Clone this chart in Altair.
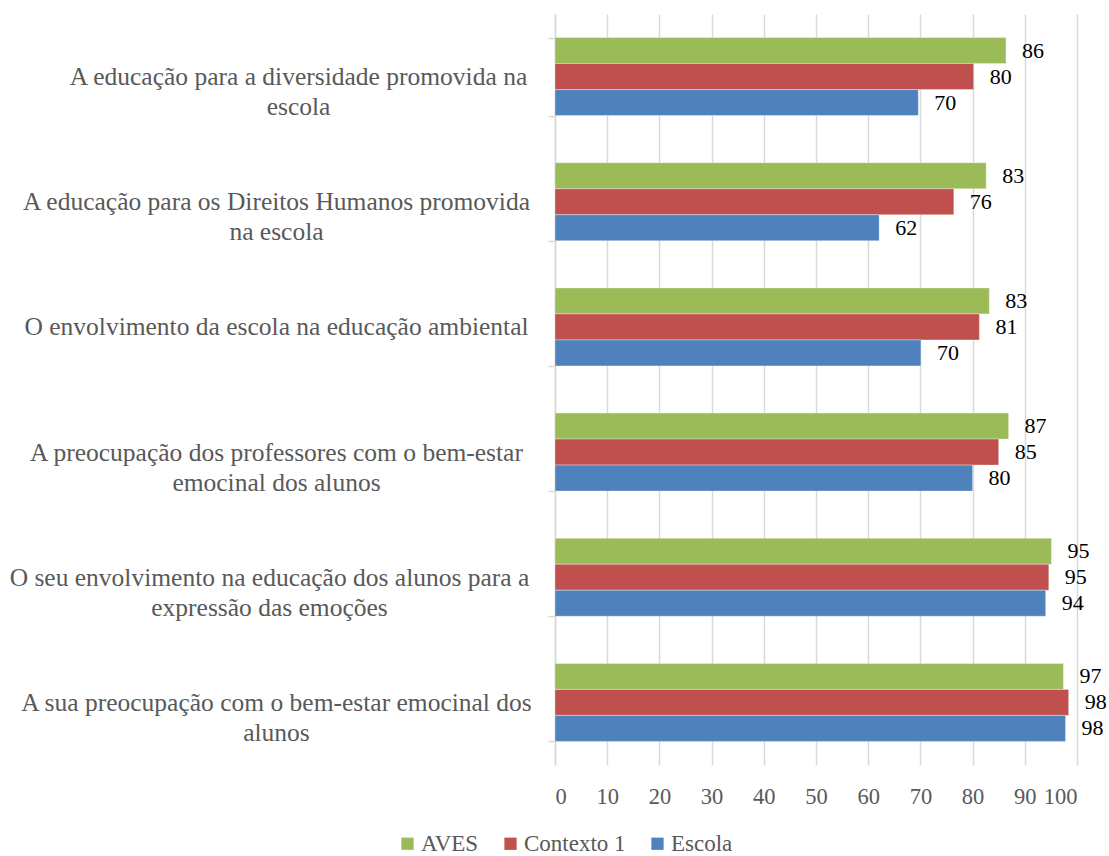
import altair as alt
import pandas as pd

# Survey items (a "|" marks where the label wraps onto a second line)
categories = [
    "A educação para a diversidade promovida na|escola",
    "A educação para os Direitos Humanos promovida|na escola",
    "O envolvimento da escola na educação ambiental",
    "A  preocupação dos professores com o bem-estar|emocinal dos alunos",
    "O seu envolvimento na educação dos alunos para a|expressão das emoções",
    "A sua preocupação com o bem-estar emocinal dos|alunos",
]
series = ["AVES", "Contexto 1", "Escola"]
aves = [86.4, 82.6, 83.2, 86.9, 95.1, 97.4]
contexto_1 = [80.2, 76.4, 81.3, 85.0, 94.6, 98.4]
escola = [69.6, 62.1, 70.1, 80.0, 94.0, 97.8]
colors = ["#9BBB59", "#C0504D", "#4F81BD"]

rows = []
for name, values in zip(series, [aves, contexto_1, escola]):
    for cat, v in zip(categories, values):
        rows.append({"item": cat, "grupo": name, "valor": v})
df = pd.DataFrame(rows)

FONT = "Liberation Serif"
GREY = "#595959"
LINE = "#d9d9d9"

y_enc = alt.Y(
    "item:N",
    sort=categories,
    scale=alt.Scale(paddingInner=0.377, paddingOuter=0.1885),
    axis=alt.Axis(
        title=None,
        domain=True,
        domainColor=LINE,
        domainWidth=1.5,
        ticks=True,
        tickColor=LINE,
        tickWidth=1.5,
        tickSize=7,
        tickBand="extent",
        grid=False,
        labelAlign="center",
        labelBaseline="middle",
        labelLineHeight=30,
        labelLimit=0,
        labelFont=FONT,
        labelFontSize=25.5,
        labelColor=GREY,
        labelExpr="split(datum.label, '|')",
        labelPadding={
            "condition": [
                {"test": f"datum.value === '{categories[0]}'", "value": 250},
                {"test": f"datum.value === '{categories[4]}'", "value": 279},
            ],
            "value": 272,
        },
    ),
)
yoff_enc = alt.YOffset("grupo:N", sort=series,
                       scale=alt.Scale(paddingInner=0, paddingOuter=0))
x_enc = alt.X(
    "valor:Q",
    scale=alt.Scale(domain=[0, 100], nice=False),
    axis=alt.Axis(
        title=None,
        values=list(range(0, 101, 10)),
        domain=False,
        ticks=False,
        grid=True,
        gridColor=LINE,
        gridWidth=1.5,
        labelFont=FONT,
        labelFontSize=22.5,
        labelColor=GREY,
        labelPadding=20,
    ),
)

bars = alt.Chart(df).mark_bar(stroke="white", strokeWidth=1, strokeOpacity=0.35).encode(
    x=x_enc,
    y=y_enc,
    yOffset=yoff_enc,
    color=alt.Color(
        "grupo:N",
        sort=series,
        scale=alt.Scale(domain=series, range=colors),
        legend=alt.Legend(
            title=None,
            orient="none",
            direction="horizontal",
            legendX=-159,
            legendY=818,
            symbolType="square",
            symbolSize=150,
            symbolStrokeWidth=0,
            labelFont=FONT,
            labelFontSize=23,
            labelColor=GREY,
            labelOffset=2,
            columnPadding=20,
        ),
    ),
)

labels = alt.Chart(df).mark_text(
    align="left", baseline="middle", dx=16, font=FONT, fontSize=22, color="black"
).encode(
    x="valor:Q",
    y=alt.Y("item:N", sort=categories),
    yOffset=alt.YOffset("grupo:N", sort=series),
    text=alt.Text("valor:Q", format=".0f"),
)

chart = (
    alt.layer(bars, labels)
    .properties(
        width=522,
        height=751,
        padding={"left": 555, "top": 14, "right": 32, "bottom": 91},
        autosize=alt.AutoSizeParams(type="none"),
        background="white",
    )
    .configure_view(stroke=None)
)

chart.save("out.html", embed_options={"renderer": "svg", "actions": False})
